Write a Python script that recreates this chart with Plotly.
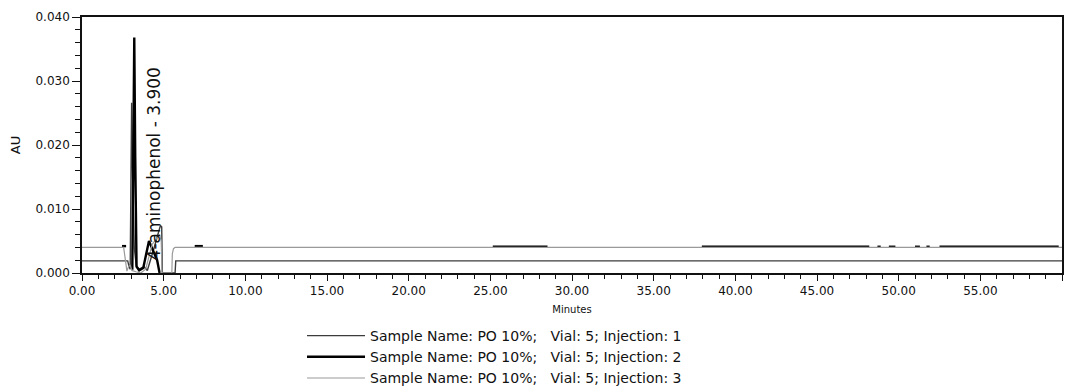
import plotly.graph_objects as go

# ---- data (minutes, AU) ----
inj1_min = [0.0, 2.8, 2.88, 2.95, 3.0, 3.04, 3.1, 3.2, 3.32, 3.5, 3.8, 4.0, 4.4, 4.8, 4.88, 4.92, 5.7, 5.74, 60.0]
inj1_au = [0.0019, 0.0019, 0.0010, 0.0006, 0.0150, 0.0266, 0.0150, 0.0040, 0.0012, 0.0006, 0.0010, 0.0004, 0.0038, 0.0074, 0.0072, 0.0, 0.0, 0.0019, 0.0019]

inj2_min = [2.45, 2.7, None, 3.08, 3.14, 3.2, 3.26, 3.34, 3.5, 3.75, 4.1, 4.6, 4.75, None,
            6.9, 7.4, None, 25.15, 28.5, None, 37.95, 48.2, None,
            48.7, 48.9, None, 49.4, 49.8, None, 51.0, 51.3, None, 51.7, 51.9, None, 52.5, 59.8]
inj2_au = [0.0042, 0.0042, None, 0.0005, 0.0200, 0.0368, 0.0180, 0.0010, 0.0004, 0.0008, 0.0050, 0.0020, 0.0, None,
           0.0042, 0.0042, None, 0.0041, 0.0041, None, 0.0041, 0.0041, None,
           0.0041, 0.0041, None, 0.0041, 0.0041, None, 0.0041, 0.0041, None, 0.0041, 0.0041, None, 0.0041, 0.0041]

inj3_min = [0.0, 2.55, 2.75, 2.85, 2.95, 3.05, 3.3, 3.6, 3.9, 4.3, 4.75, 4.85, 4.9, 5.5, 5.53, 5.6, 5.7, 60.0]
inj3_au = [0.0040, 0.0040, 0.0003, 0.0010, 0.0012, 0.0004, 0.0002, 0.0000, 0.0006, 0.0045, 0.0060, 0.0050, 0.0, 0.0, 0.0030, 0.0038, 0.0040, 0.0040]

series_names = [
    "Sample Name: PO 10%;   Vial: 5; Injection: 1",
    "Sample Name: PO 10%;   Vial: 5; Injection: 2",
    "Sample Name: PO 10%;   Vial: 5; Injection: 3",
]

peak_label = "4-aminophenol - 3.900"
peak_label_min = 4.4
peak_label_au = 0.0171

x_tick_vals = [0, 5, 10, 15, 20, 25, 30, 35, 40, 45, 50, 55, 60]
y_tick_vals = [0.0, 0.01, 0.02, 0.03, 0.04]

FONT = "DejaVu Sans"

fig = go.Figure()
fig.add_trace(go.Scatter(x=inj1_min, y=inj1_au, mode="lines", name=series_names[0],
                         line=dict(color="#3c3c3c", width=1.4), connectgaps=False))
fig.add_trace(go.Scatter(x=inj2_min, y=inj2_au, mode="lines", name=series_names[1],
                         line=dict(color="#000000", width=2.4), connectgaps=False))
fig.add_trace(go.Scatter(x=inj3_min, y=inj3_au, mode="lines", name=series_names[2],
                         line=dict(color="#9a9a9a", width=1.2), connectgaps=False))

fig.add_annotation(x=peak_label_min, y=peak_label_au, xref="x", yref="y",
                   text=peak_label, textangle=-90, showarrow=False,
                   font=dict(family=FONT, size=17, color="#111"))

fig.update_layout(
    width=1076, height=387,
    margin=dict(l=82, r=14, t=17, b=114, autoexpand=False),
    paper_bgcolor="white", plot_bgcolor="white",
    font=dict(family=FONT, color="#111"),
    showlegend=True,
    legend=dict(x=0.2245, y=1 - 320 / 387, xref="paper", yref="container",
                xanchor="left", yanchor="top",
                font=dict(family=FONT, size=14, color="#111"),
                bgcolor="rgba(0,0,0,0)", itemwidth=58, tracegroupgap=0),
    xaxis=dict(range=[0, 60], tickvals=x_tick_vals, tickformat=".2f", automargin=False,
               ticks="outside", ticklen=6, tickwidth=1.2, tickcolor="#111",
               minor=dict(dtick=1, ticks="outside", ticklen=4, tickcolor="#111", showgrid=False),
               showgrid=False, zeroline=False,
               showline=True, linecolor="#111", linewidth=1.6, mirror=True,
               tickfont=dict(family=FONT, size=12, color="#111"),
               title=dict(text="Minutes", font=dict(family=FONT, size=10, color="#111"), standoff=9)),
    yaxis=dict(range=[0, 0.04], tickvals=y_tick_vals, tickformat=".3f", automargin=False,
               ticks="outside", ticklen=8, tickwidth=1.2, tickcolor="#111",
               minor=dict(dtick=0.002, ticks="outside", ticklen=5, tickcolor="#111", showgrid=False),
               showgrid=False, zeroline=False,
               showline=True, linecolor="#111", linewidth=1.6, mirror=True,
               tickfont=dict(family=FONT, size=12, color="#111"),
               title=dict(text="AU", font=dict(family=FONT, size=13, color="#111"), standoff=12)),
)

fig.write_html("out.html", config={"displayModeBar": False},
               post_script="document.body.style.margin='0';document.body.style.overflow='hidden';")
